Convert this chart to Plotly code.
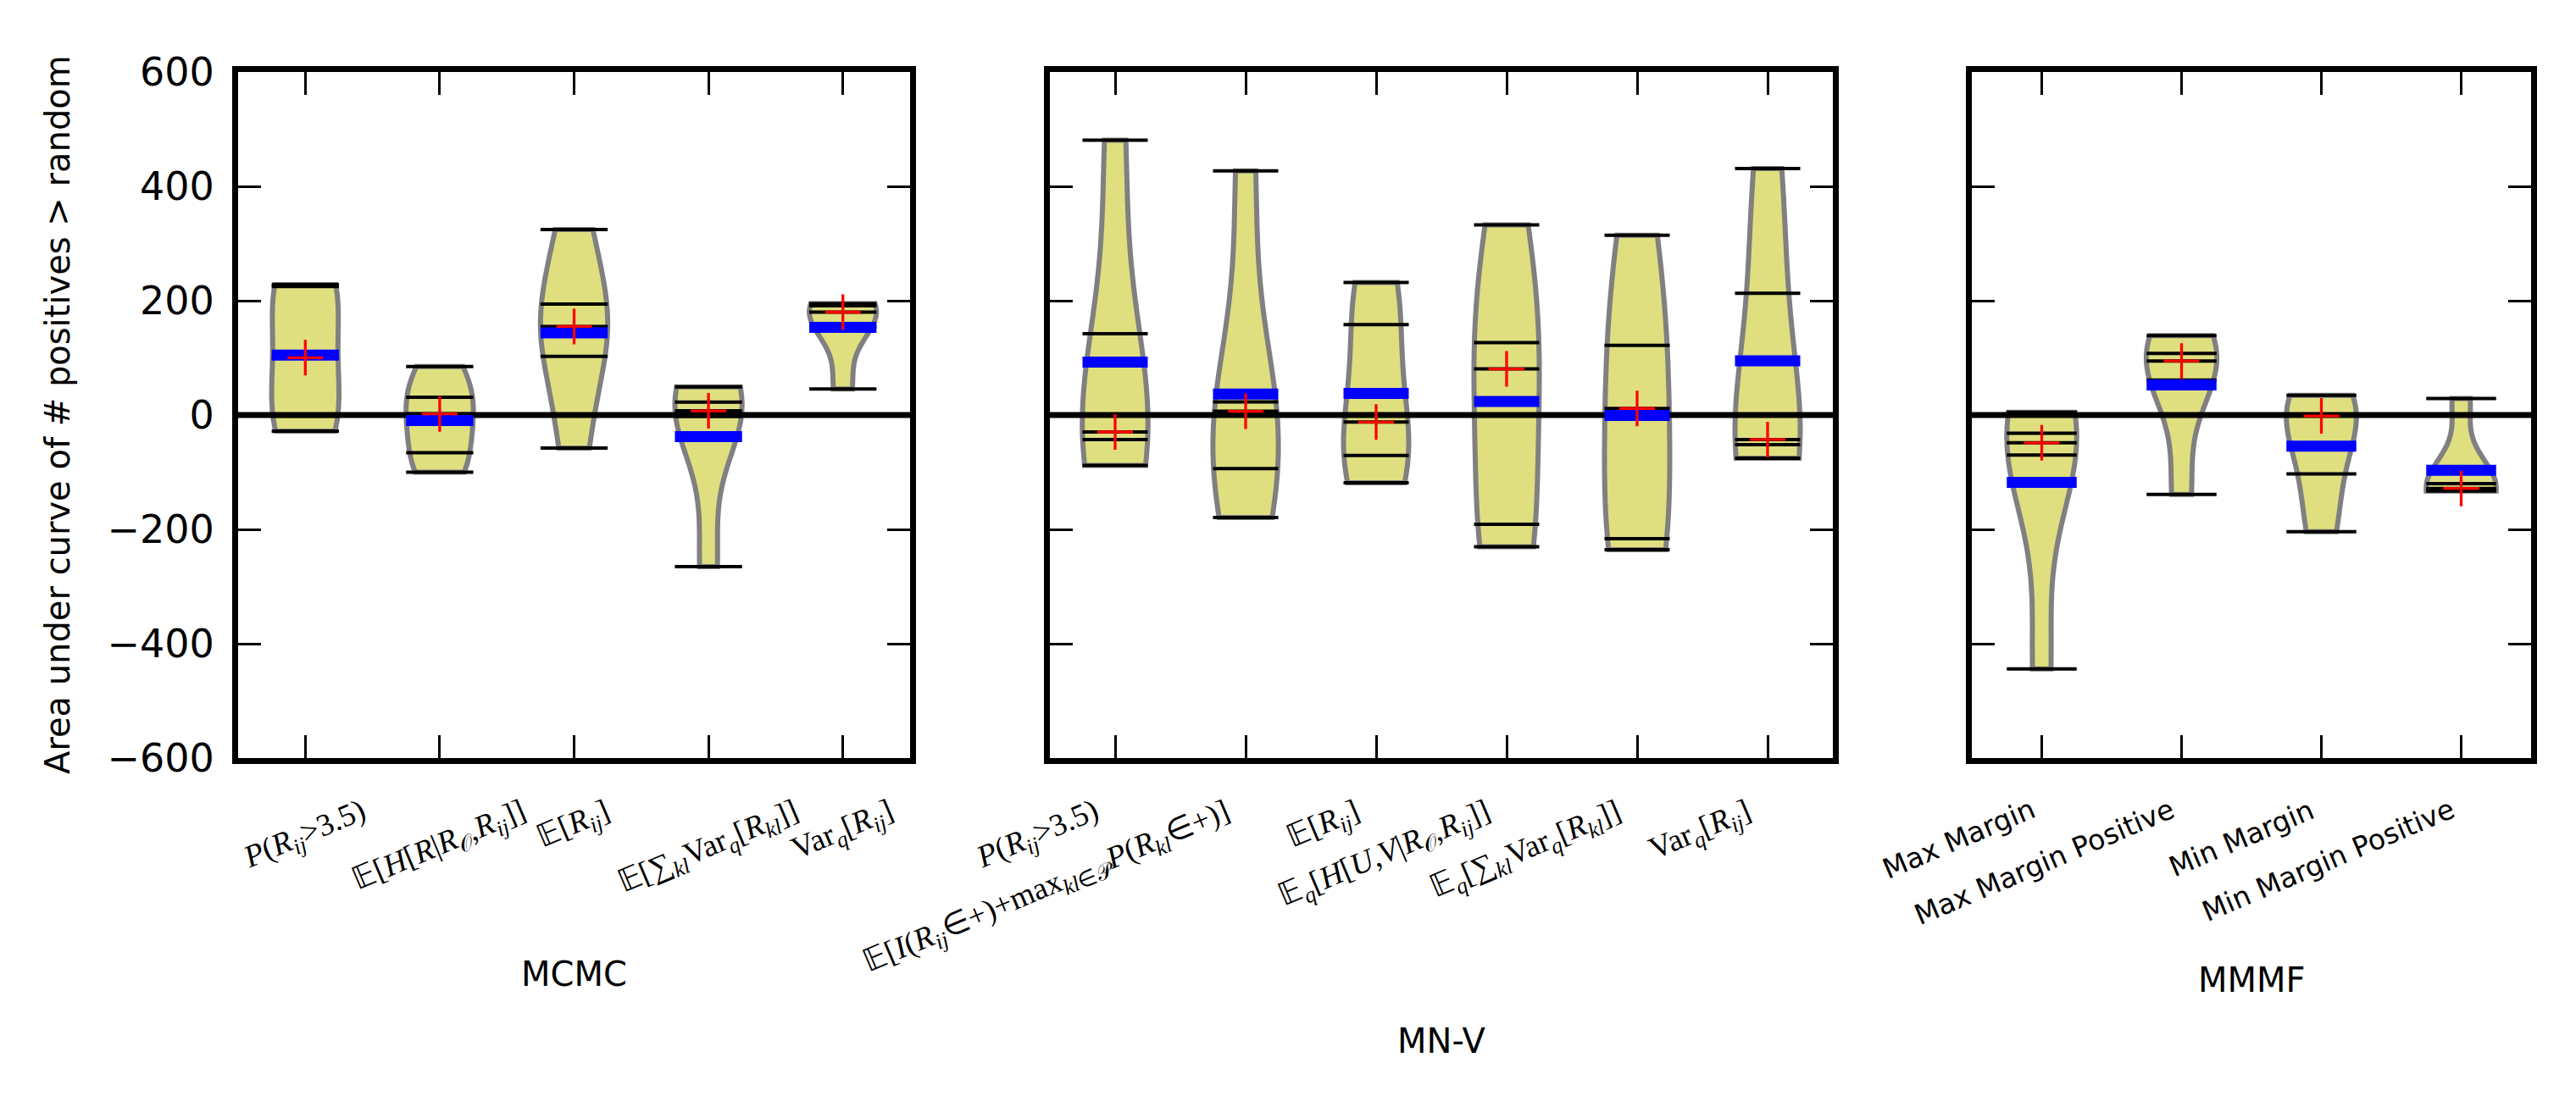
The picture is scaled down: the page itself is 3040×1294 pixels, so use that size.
import numpy as np
import plotly.graph_objects as go

W, H = 3040, 1294

# ---------------- data ----------------
# MCMC group
mcmc_p_gt35 = [228, 225, 100.2, -2, -28]
mcmc_e_entropy = [85, 31, 2, -66, -100]
mcmc_e_r = [324.6, 193.9, 155, 102.7, -57.8]
mcmc_e_sumvar = [49.2, 22.5, 7.3, -2.2, -265.3]
mcmc_var = [195, 191, 180, 155, 45.6]

# MN-V group
mnv_p_gt35 = [480.6, 142.4, -29.6, -42.8, -88]
mnv_indicator_max = [427, 23, 6.6, -93.8, -179.4]
mnv_e_r = [232, 158, -12.3, -70.8, -118.5]
mnv_e_entropy = [332.5, 126.7, 80.7, -191, -230.4]
mnv_e_sumvar = [314.4, 121.8, 11.5, -216.4, -235.4]
mnv_var = [431, 213, -42.8, -51.8, -75.7]

# MMMF group
mmmf_max_margin = [4.9, -32, -48.6, -70, -444]
mmmf_max_margin_pos = [139, 107.8, 94.6, 61.1, -139]
mmmf_min_margin = [34.6, 1, -1.6, -103, -204]
mmmf_min_margin_pos = [28.8, -120, -128.4, -130, -133]

mcmc_labels = [
    "<i>P</i>(<i>R<sub>ij</sub></i>&gt;3.5)",
    "𝔼[<i>H</i>[<i>R</i>|<i>R</i><sub>𝒪</sub>,<i>R<sub>ij</sub></i>]]",
    "𝔼[<i>R<sub>ij</sub></i>]",
    "𝔼[∑<sub><i>kl</i></sub>Var<sub><i>q</i></sub>[<i>R<sub>kl</sub></i>]]",
    "Var<sub><i>q</i></sub>[<i>R<sub>ij</sub></i>]",
]
mnv_labels = [
    "<i>P</i>(<i>R<sub>ij</sub></i>&gt;3.5)",
    "𝔼[<i>I</i>(<i>R<sub>ij</sub></i>∈+)+max<sub><i>kl</i>∈𝒫</sub><i>P</i>(<i>R<sub>kl</sub></i>∈+)]",
    "𝔼[<i>R<sub>ij</sub></i>]",
    "𝔼<sub><i>q</i></sub>[<i>H</i>[<i>U</i>,<i>V</i>|<i>R</i><sub>𝒪</sub>,<i>R<sub>ij</sub></i>]]",
    "𝔼<sub><i>q</i></sub>[∑<sub><i>kl</i></sub>Var<sub><i>q</i></sub>[<i>R<sub>kl</sub></i>]]",
    "Var<sub><i>q</i></sub>[<i>R<sub>ij</sub></i>]",
]
mmmf_labels = ["Max Margin", "Max Margin Positive", "Min Margin", "Min Margin Positive"]

group_titles = ["MCMC", "MN-V", "MMMF"]
y_title = "Area under curve of # positives &gt; random"
y_range = [-600, 600]

groups = [
    [mcmc_p_gt35, mcmc_e_entropy, mcmc_e_r, mcmc_e_sumvar, mcmc_var],
    [mnv_p_gt35, mnv_indicator_max, mnv_e_r, mnv_e_entropy, mnv_e_sumvar, mnv_var],
    [mmmf_max_margin, mmmf_max_margin_pos, mmmf_min_margin, mmmf_min_margin_pos],
]
labels = [mcmc_labels, mnv_labels, mmmf_labels]

# ---------------- layout geometry (pixels) ----------------
panel_px = [(281, 1074), (1239, 2163), (2327, 2987)]
top_px, bot_px = 85, 895
title_px = [(677, 1150), (1701, 1229), (2657, 1157)]
label_top_px = 933
label_anchor = ["center", "right", "right"]
label_shift = [0, -9, 0]
label_font = [
    dict(family="Liberation Serif", size=37, color="black"),
    dict(family="Liberation Serif", size=37, color="black"),
    dict(family="DejaVu Sans", size=33, color="black"),
]

fill_col = "rgb(223,223,128)"
edge_col = "rgb(128,128,128)"
half = 0.25

fig = go.Figure()
layout = dict(
    template="none",
    width=W, height=H, margin=dict(l=0, r=0, t=0, b=0, pad=0, autoexpand=False),
    paper_bgcolor="white", plot_bgcolor="white", showlegend=False,
    font=dict(family="DejaVu Sans", color="black"),
)
annotations = []

for g, (data, labs) in enumerate(zip(groups, labels)):
    k = "" if g == 0 else str(g + 1)
    xa, ya = "x" + k, "y" + k
    n = len(data)
    # violins
    for i, vals in enumerate(data):
        arr = np.asarray(vals, dtype=float)
        bw = arr.std(ddof=1) * len(arr) ** (-0.2)
        fig.add_trace(go.Violin(
            x=[i] * len(arr), y=arr, xaxis=xa, yaxis=ya,
            width=2 * half, spanmode="hard", bandwidth=bw, scalemode="width",
            points=False, box_visible=False, meanline_visible=False,
            fillcolor=fill_col, line=dict(color=edge_col, width=6),
            opacity=1, hoverinfo="skip",
        ))
    # zero line
    fig.add_trace(go.Scatter(x=[-0.5, n - 0.5], y=[0, 0], xaxis=xa, yaxis=ya,
                             mode="lines", line=dict(color="black", width=7),
                             hoverinfo="skip"))
    # bean lines (one per observation)
    bx, by = [], []
    for i, vals in enumerate(data):
        for v in vals:
            bx += [i - half, i + half, None]
            by += [v, v, None]
    fig.add_trace(go.Scatter(x=bx, y=by, xaxis=xa, yaxis=ya, mode="lines",
                             line=dict(color="black", width=4), hoverinfo="skip"))
    # mean lines (blue)
    mx, my = [], []
    for i, vals in enumerate(data):
        m = float(np.mean(vals))
        mx += [i - half, i + half, None]
        my += [m, m, None]
    fig.add_trace(go.Scatter(x=mx, y=my, xaxis=xa, yaxis=ya, mode="lines",
                             line=dict(color="#0000ff", width=13), hoverinfo="skip"))
    # medians (red +)
    fig.add_trace(go.Scatter(x=list(range(n)), y=[float(np.median(v)) for v in data],
                             xaxis=xa, yaxis=ya, mode="markers",
                             marker=dict(symbol="cross-thin", size=30,
                                         line=dict(color="#ff0000", width=3.3)),
                             hoverinfo="skip"))

    x0, x1 = panel_px[g]
    layout["xaxis" + k] = dict(
        domain=[x0 / W, x1 / W], anchor=ya, range=[-0.5, n - 0.5],
        tickvals=list(range(n)), showticklabels=False, automargin=False,
        ticks="inside", ticklen=27, tickwidth=3, tickcolor="black",
        showline=True, linewidth=7, linecolor="black", mirror="ticks",
        showgrid=False, zeroline=False, fixedrange=True,
    )
    layout["yaxis" + k] = dict(
        domain=[1 - bot_px / H, 1 - top_px / H], anchor=xa, range=y_range,
        dtick=200, tick0=0, showticklabels=(g == 0), automargin=False,
        tickfont=dict(family="DejaVu Sans", size=46, color="black"),
        ticklabelstandoff=12,
        ticks="inside", ticklen=27, tickwidth=3, tickcolor="black",
        showline=True, linewidth=7, linecolor="black", mirror="ticks",
        showgrid=False, zeroline=False, fixedrange=True,
    )
    # category labels
    for i, lab in enumerate(labs):
        annotations.append(dict(
            text=lab, x=i, xref=xa, y=1 - label_top_px / H, yref="paper",
            xanchor=label_anchor[g], yanchor="top", xshift=label_shift[g],
            textangle=-23, showarrow=False, font=label_font[g],
        ))
    # group title
    tx, ty = title_px[g]
    annotations.append(dict(
        text=group_titles[g], x=tx / W, y=1 - ty / H, xref="paper", yref="paper",
        xanchor="center", yanchor="middle", showarrow=False,
        font=dict(family="DejaVu Sans", size=40, color="black"),
    ))

annotations.append(dict(
    text=y_title, x=68 / W, y=1 - 490 / H, xref="paper", yref="paper",
    xanchor="center", yanchor="middle", textangle=-90, showarrow=False,
    font=dict(family="DejaVu Sans", size=40, color="black"),
))
layout["annotations"] = annotations
fig.update_layout(**layout)
fig.write_html(
    "out.html",
    config={"displayModeBar": False},
    post_script="document.body.style.margin='0px';document.body.style.overflow='hidden';",
)
